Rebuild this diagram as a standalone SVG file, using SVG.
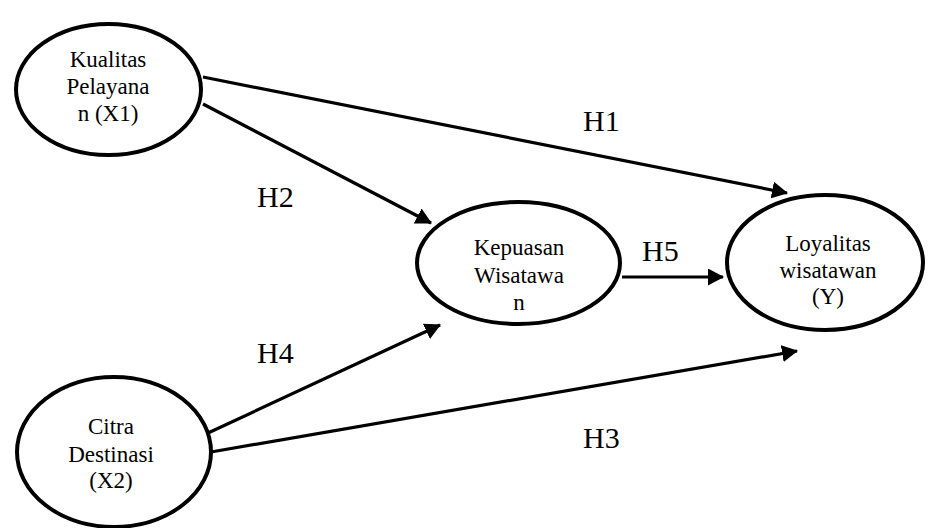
<svg xmlns="http://www.w3.org/2000/svg" width="930" height="528" viewBox="0 0 930 528">
<style>
.node ellipse{fill:#fff;stroke:#000;stroke-width:4}
.node text{font-size:23px;fill:#000;text-anchor:middle}
.edge{stroke:#000;stroke-width:3.2;fill:none;marker-end:url(#ah)}
.lbl{font-size:30px;fill:#000}
</style>
<defs>
<marker id="ah" markerWidth="16" markerHeight="18" refX="15" refY="8.5" orient="auto" markerUnits="userSpaceOnUse">
<path d="M0,0 L16,8.5 L0,17 Z" fill="#000"/>
</marker>
</defs>
<rect width="930" height="528" fill="#fff"/>
<g font-family="Liberation Serif, DejaVu Serif, serif">
<g id="connectors">
<line class="edge" x1="203" y1="77" x2="787" y2="193"/>
<line class="edge" x1="203" y1="104" x2="431" y2="223"/>
<line class="edge" x1="622" y1="277" x2="723" y2="277"/>
<line class="edge" x1="208" y1="433" x2="440" y2="325"/>
<line class="edge" x1="211" y1="452" x2="797" y2="351"/>
<text class="lbl" x="583" y="131">H1</text>
<text class="lbl" x="257" y="207">H2</text>
<text class="lbl" x="642" y="261">H5</text>
<text class="lbl" x="257" y="363">H4</text>
<text class="lbl" x="583" y="448">H3</text>
</g>
<g id="x1" class="node">
<ellipse cx="108.5" cy="89.5" rx="92.5" ry="65.5"/>
<text x="108" y="67">Kualitas</text>
<text x="108" y="94">Pelayana</text>
<text x="108" y="121">n (X1)</text>
</g>
<g id="x2" class="node">
<ellipse cx="114" cy="452" rx="97" ry="75"/>
<text x="111" y="434">Citra</text>
<text x="111" y="462">Destinasi</text>
<text x="111" y="488">(X2)</text>
</g>
<g id="z" class="node">
<ellipse cx="518.5" cy="263" rx="101.5" ry="61"/>
<text x="519" y="255">Kepuasan</text>
<text x="519" y="283">Wisatawa</text>
<text x="519" y="310">n</text>
</g>
<g id="y" class="node">
<ellipse cx="825" cy="262.5" rx="98" ry="67.5"/>
<text x="828" y="251">Loyalitas</text>
<text x="828" y="278">wisatawan</text>
<text x="828" y="304">(Y)</text>
</g>
</g>
</svg>
